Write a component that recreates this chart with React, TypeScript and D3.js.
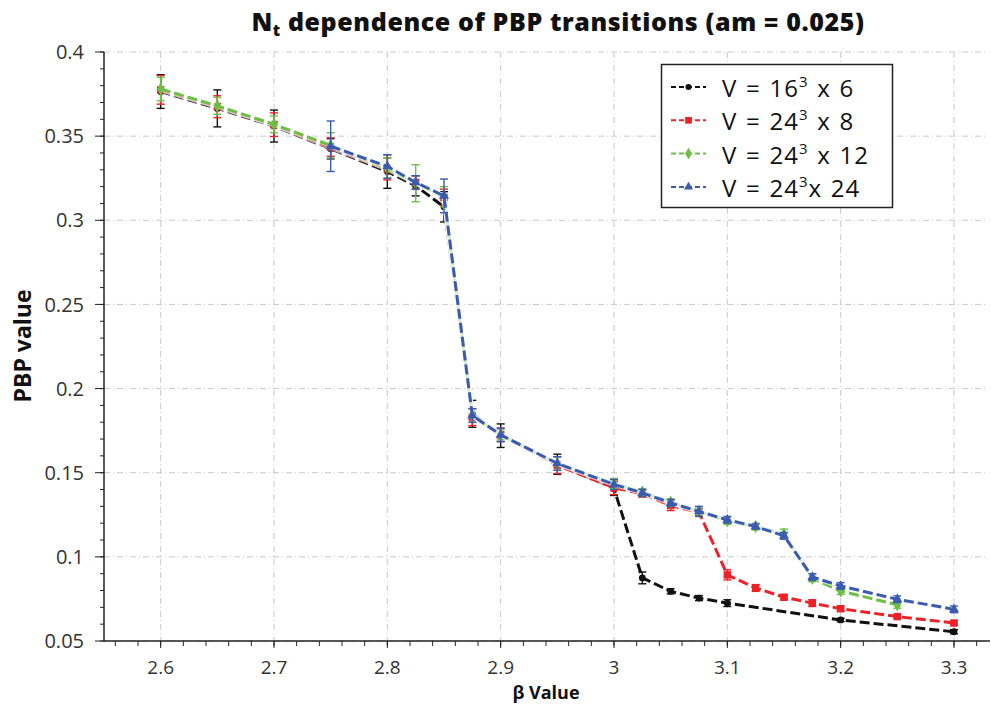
import React from 'react';
import * as d3 from 'd3';

// ---------- data ----------
const betaBlack = [2.6, 2.65, 2.7, 2.75, 2.8, 2.825, 2.85, 2.875, 2.9, 2.95, 3.0, 3.025, 3.05, 3.075, 3.1, 3.2, 3.3];
const pbpBlack = [0.3765, 0.3665, 0.356, 0.3425, 0.329, 0.3205, 0.308, 0.185, 0.172, 0.155, 0.1405, 0.0875, 0.0795, 0.0755, 0.0725, 0.0625, 0.0555];
const errBlack = [0.01, 0.011, 0.0095, 0.006, 0.01, 0.006, 0.009, 0.008, 0.007, 0.006, 0.004, 0.0035, 0.0015, 0.0015, 0.002, 0.001, 0.0012];

const betaRed = [2.6, 2.65, 2.7, 2.75, 2.8, 2.825, 2.85, 2.875, 2.9, 2.95, 3.0, 3.025, 3.05, 3.075, 3.1, 3.125, 3.15, 3.175, 3.2, 3.25, 3.3];
const pbpRed = [0.3775, 0.3675, 0.3568, 0.3435, 0.3305, 0.3225, 0.3135, 0.183, 0.1725, 0.1545, 0.141, 0.1375, 0.1305, 0.1265, 0.0893, 0.0815, 0.076, 0.0725, 0.0692, 0.0645, 0.0607];
const errRed = [0.0085, 0.0065, 0.007, 0.0055, 0.0065, 0.004, 0.005, 0.005, 0.004, 0.005, 0.004, 0.002, 0.003, 0.002, 0.003, 0.002, 0.0015, 0.002, 0.0015, 0.001, 0.001];

const betaGreen = [2.6, 2.65, 2.7, 2.75, 2.8, 2.825, 2.85, 2.875, 2.9, 2.95, 3.0, 3.025, 3.05, 3.075, 3.1, 3.125, 3.15, 3.175, 3.2, 3.25];
const pbpGreen = [0.378, 0.368, 0.357, 0.3445, 0.331, 0.322, 0.314, 0.184, 0.1725, 0.1555, 0.1435, 0.1385, 0.1325, 0.127, 0.1213, 0.118, 0.1135, 0.0872, 0.0797, 0.0715];
const errGreen = [0.007, 0.005, 0.005, 0.0075, 0.006, 0.011, 0.006, 0.004, 0.003, 0.004, 0.003, 0.002, 0.002, 0.002, 0.002, 0.002, 0.003, 0.002, 0.002, 0.002];

const betaBlue = [2.75, 2.8, 2.825, 2.85, 2.875, 2.9, 2.95, 3.0, 3.025, 3.05, 3.075, 3.1, 3.125, 3.15, 3.175, 3.2, 3.25, 3.3];
const pbpBlue = [0.344, 0.332, 0.3225, 0.3145, 0.184, 0.1725, 0.1555, 0.143, 0.138, 0.132, 0.127, 0.122, 0.118, 0.1125, 0.088, 0.0827, 0.0748, 0.0688];
const errBlue = [0.015, 0.007, 0.004, 0.01, 0.004, 0.004, 0.004, 0.003, 0.002, 0.002, 0.003, 0.002, 0.0015, 0.002, 0.002, 0.002, 0.002, 0.002];

const xTicks = [2.6, 2.7, 2.8, 2.9, 3.0, 3.1, 3.2, 3.3];
const xTickLabels = ['2.6', '2.7', '2.8', '2.9', '3', '3.1', '3.2', '3.3'];
const yTicks = [0.05, 0.1, 0.15, 0.2, 0.25, 0.3, 0.35, 0.4];
const yTickLabels = ['0.05', '0.1', '0.15', '0.2', '0.25', '0.3', '0.35', '0.4'];

const legendBase = ['16', '24', '24', '24'];
const legendTail = [' x 6', ' x 8', ' x 12', 'x 24'];

// ---------- layout ----------
const W = 991;
const H = 707;
const L = 104, R = 988, T = 52, B = 641;

const x = d3.scaleLinear().domain([2.55, 3.33]).range([L, R]);
const y = d3.scaleLinear().domain([0.05, 0.4]).range([B, T]);

const series = [
  { b: betaBlack, v: pbpBlack, e: errBlack, color: '#111111', sym: d3.symbolCircle, size: 36 },
  { b: betaRed, v: pbpRed, e: errRed, color: '#ec2227', sym: d3.symbolSquare, size: 56 },
  { b: betaGreen, v: pbpGreen, e: errGreen, color: '#6cc043', sym: d3.symbolDiamond, size: 50 },
  { b: betaBlue, v: pbpBlue, e: errBlue, color: '#3b5bb0', sym: d3.symbolTriangle, size: 44 },
];

const line = d3.line<[number, number]>().x(d => x(d[0])).y(d => y(d[1]));

const xMinor = d3.range(2.56, 3.3301, 0.02);
const yMinor = d3.range(0.05, 0.4001, 0.01);

const tickFont = '"Open Sans", sans-serif';

export default function App() {
  return (
    <svg width={W} height={H} style={{ position: 'absolute', left: 0, top: 0, background: '#fff' }} fontFamily={tickFont}>
      <rect x={0} y={0} width={W} height={H} fill="#fff" />
      {/* grid */}
      {xTicks.map((t, i) => (
        <line key={'gx' + i} x1={x(t)} x2={x(t)} y1={T} y2={B} stroke="#c9c9c9" strokeWidth={1} strokeDasharray="6,3,1,3" />
      ))}
      {yTicks.map((t, i) => (
        <line key={'gy' + i} x1={L} x2={R} y1={y(t)} y2={y(t)} stroke="#c9c9c9" strokeWidth={1} strokeDasharray="6,3,1,3" />
      ))}

      {/* series */}
      {series.map((s, si) => {
        const pts: [number, number][] = s.b.map((b, i) => [b, s.v[i]]);
        return (
          <g key={'s' + si}>
            <path d={line(pts) || ''} fill="none" stroke="#fff" strokeOpacity={0.7} strokeWidth={5} />
            <path d={line(pts) || ''} fill="none" stroke={s.color} strokeWidth={3} strokeDasharray="10,4" />
            {pts.map((p, i) => {
              const cx = x(p[0]);
              const y1 = y(p[1] + s.e[i]);
              const y2 = y(p[1] - s.e[i]);
              return (
                <g key={'e' + i} stroke={s.color} strokeWidth={1.4}>
                  <line x1={cx} x2={cx} y1={y1} y2={y2} />
                  <line x1={cx - 4} x2={cx + 4} y1={y1} y2={y1} />
                  <line x1={cx - 4} x2={cx + 4} y1={y2} y2={y2} />
                </g>
              );
            })}
            {pts.map((p, i) => (
              <path key={'m' + i} d={d3.symbol(s.sym, s.size)() || ''} transform={`translate(${x(p[0])},${y(p[1])})`} fill={s.color} />
            ))}
          </g>
        );
      })}

      {/* axes */}
      <line x1={L} x2={L} y1={T} y2={B} stroke="#222" strokeWidth={1.5} />
      <line x1={L} x2={R + 2} y1={B} y2={B} stroke="#222" strokeWidth={1.5} />
      {yMinor.map((t, i) => (
        <line key={'ym' + i} x1={L - 4} x2={L} y1={y(t)} y2={y(t)} stroke="#222" strokeWidth={1} />
      ))}
      {yTicks.map((t, i) => (
        <g key={'yt' + i}>
          <line x1={L - 9} x2={L} y1={y(t)} y2={y(t)} stroke="#222" strokeWidth={1} />
          <text x={L - 20} y={y(t)} dy="0.36em" textAnchor="end" fontSize={20} fill="#333">{yTickLabels[i]}</text>
        </g>
      ))}
      {xMinor.map((t, i) => (
        <line key={'xm' + i} x1={x(t)} x2={x(t)} y1={B} y2={B + 5} stroke="#222" strokeWidth={1} />
      ))}
      {xTicks.map((t, i) => (
        <g key={'xt' + i}>
          <line x1={x(t)} x2={x(t)} y1={B} y2={B + 7} stroke="#222" strokeWidth={1} />
          <text x={x(t)} y={B + 33} textAnchor="middle" fontSize={19} fill="#333">{xTickLabels[i]}</text>
        </g>
      ))}

      {/* axis titles */}
      <text x={546} y={699} textAnchor="middle" fontSize={18} fontWeight="bold" fill="#111">β Value</text>
      <text transform={`translate(31,346) rotate(-90)`} textAnchor="middle" fontSize={23} fontWeight="bold" fill="#111">PBP value</text>

      {/* title */}
      <text x={558} y={31} textAnchor="middle" fontSize={25} fontWeight={800} letterSpacing={0.6} fill="#111">
        N<tspan fontSize={16} dy={5}>t</tspan><tspan dy={-5}> dependence of PBP transitions (am = 0.025)</tspan>
      </text>

      {/* legend */}
      <g>
        <rect x={661.5} y={64.5} width={231} height={143} fill="#fff" stroke="#222" strokeWidth={1.5} />
        {series.map((s, i) => {
          const ly = 87 + i * 33.3;
          return (
            <g key={'lg' + i}>
              <line x1={671} x2={706} y1={ly} y2={ly} stroke={s.color} strokeWidth={2} strokeDasharray="5,3" />
              <path d={d3.symbol(s.sym, s.size * 0.8)() || ''} transform={`translate(688.5,${ly})`} fill={s.color} />
              <text x={722} y={ly + 10} fontSize={24} wordSpacing={1.5} letterSpacing={1} fill="#111">
                V = {legendBase[i]}<tspan fontSize={15} dy={-10}>3</tspan><tspan dy={10}>{legendTail[i]}</tspan>
              </text>
            </g>
          );
        })}
      </g>
    </svg>
  );
}
